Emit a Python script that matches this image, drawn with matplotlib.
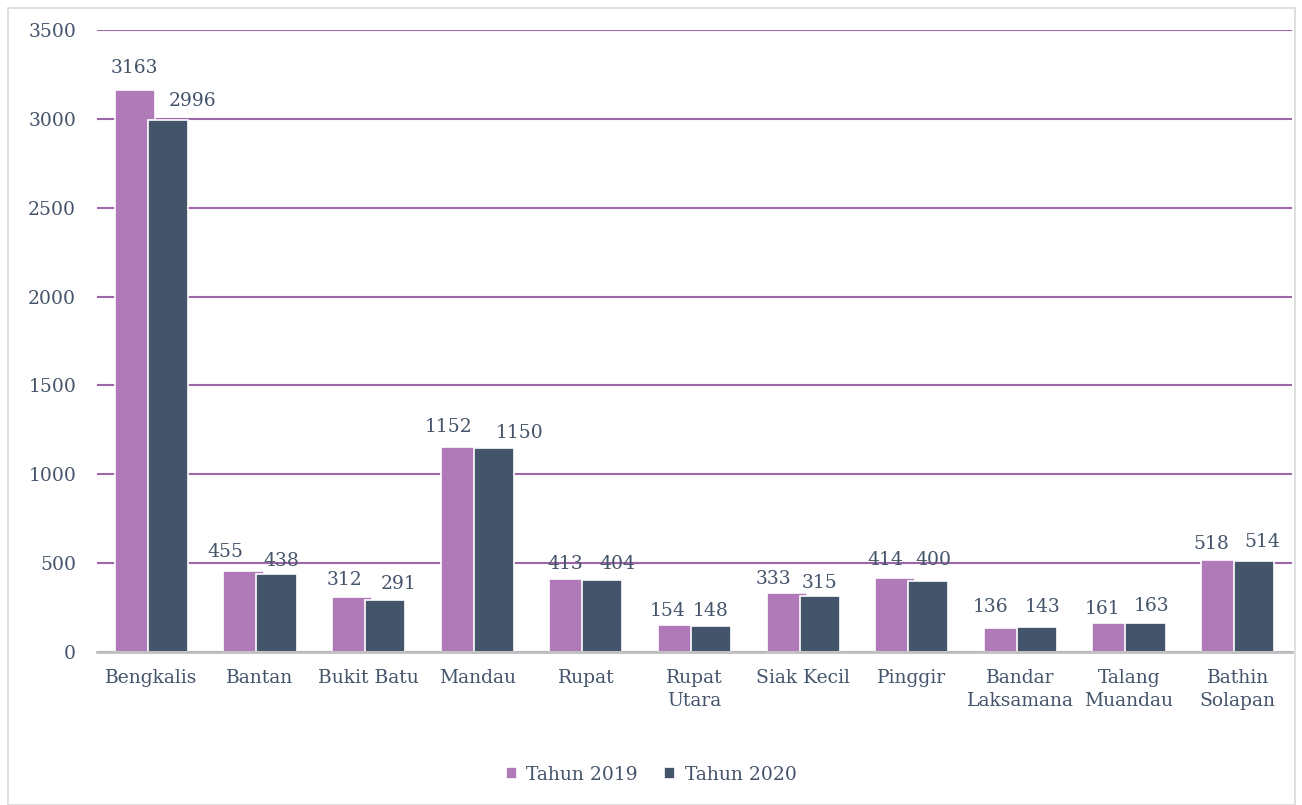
import numpy as np
import matplotlib.pyplot as plt
from matplotlib.patches import Rectangle

kecamatan = ["Bengkalis", "Bantan", "Bukit Batu", "Mandau", "Rupat", "Rupat\nUtara",
             "Siak Kecil", "Pinggir", "Bandar\nLaksamana", "Talang\nMuandau", "Bathin\nSolapan"]
tahun_2019 = [3163, 455, 312, 1152, 413, 154, 333, 414, 136, 161, 518]
tahun_2020 = [2996, 438, 291, 1150, 404, 148, 315, 400, 143, 163, 514]

# geser label data (piksel) seperti di gambar asli
geser_x_2019 = [0, -18, -8, -12, -4, -10, -13, -10, -13, -10, -10]
geser_y_2019 = [17, 14, 12, 15, 10, 9, 9, 13, 16, 9, 11]
geser_x_2020 = [25, 5, 13, 26, 15, 0, 0, 5, 6, 6, 8]
geser_y_2020 = [14, 8, 11, 10, 11, 10, 8, 16, 15, 12, 14]

ungu = "#B07AB8"
biru = "#44546A"
teks = "#44546A"

plt.rcParams['font.family'] = ['DejaVu Serif']

fig = plt.figure(figsize=(13.02, 8.05), dpi=100)
ax = fig.add_axes([97/1302, 1-652/805, (1292-97)/1302, (652-30)/805])

# bingkai luar
fig.patches.append(Rectangle((8/1302, 0), (1295-8)/1302, 1-8/805, transform=fig.transFigure,
                             fill=False, edgecolor="#D9D9D9", linewidth=1.2))

x = np.arange(len(kecamatan))
w = 0.37
b1 = ax.bar(x - 0.152, tahun_2019, w, color=ungu, edgecolor="white", linewidth=1.2,
            label="Tahun 2019", zorder=3)
b2 = ax.bar(x + 0.152, tahun_2020, w, color=biru, edgecolor="white", linewidth=1.2,
            label="Tahun 2020", zorder=4)

for bars, gx, gy in ((b1, geser_x_2019, geser_y_2019), (b2, geser_x_2020, geser_y_2020)):
    for r, dx, dy in zip(bars, gx, gy):
        ax.annotate(f"{int(r.get_height())}", (r.get_x() + r.get_width()/2, r.get_height()),
                    xytext=(dx, dy), textcoords="offset pixels", ha="center", va="baseline",
                    fontsize=13.5, color=teks, zorder=6)

ax.set_xlim(-0.5, len(kecamatan) - 0.5)
ax.set_ylim(0, 3500)
ax.set_yticks(range(0, 3501, 500))
ax.yaxis.grid(True, color="#9E68A8", linewidth=1.5, zorder=0)
ax.set_axisbelow(True)
for s in ["top", "right", "left"]:
    ax.spines[s].set_visible(False)
ax.spines["bottom"].set_color("#BFBFBF")
ax.spines["bottom"].set_linewidth(2)
ax.spines["bottom"].set_zorder(5)
ax.tick_params(axis="both", length=0, labelsize=13.5, labelcolor=teks)
ax.tick_params(axis="y", pad=15)
ax.tick_params(axis="x", pad=12)
ax.set_xticks(x)
ax.set_xticklabels(kecamatan, linespacing=1.4)

fig.legend(handles=[b1, b2], loc="center", bbox_to_anchor=(0.5, 1-775/805), ncol=2,
           frameon=False, fontsize=13.5, labelcolor=teks, handlelength=0.6, handleheight=0.6,
           handletextpad=0.5, columnspacing=1.4)

fig.savefig("out.png", dpi=100)
